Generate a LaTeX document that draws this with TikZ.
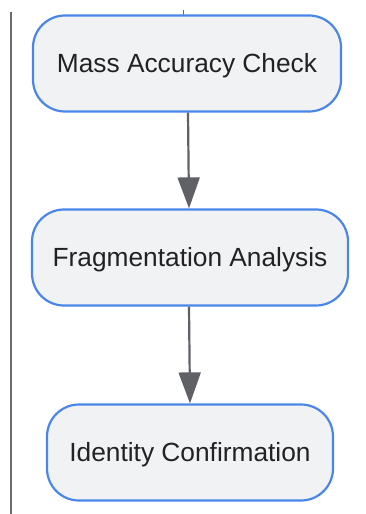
\documentclass[tikz,border=0pt]{standalone}
\usepackage{fontspec}
\setmainfont{Liberation Sans}
\usetikzlibrary{arrows.meta}
\definecolor{boxfill}{HTML}{F1F2F4}
\definecolor{boxline}{HTML}{4A86E8}
\definecolor{arrowgray}{HTML}{5F6166}
\definecolor{txt}{HTML}{222222}
\definecolor{sideline}{HTML}{6A6A6A}
\tikzset{
  stepbox/.style={draw=boxline, line width=2.2pt, fill=boxfill, rounded corners=32pt,
    minimum height=96pt, text=txt, font=\fontsize{26.3}{30}\selectfont, inner sep=0pt,
    text height=18.8pt, text depth=0pt},
  flow/.style={draw=arrowgray, line width=2.2pt, -{Triangle[length=31pt,width=22pt]}}
}
\begin{document}
\begin{tikzpicture}[x=1pt,y=-1pt]
\useasboundingbox (0,0) rectangle (365,514);
\draw[sideline, line width=2pt] (11,12) -- (11,514);
\draw[sideline, line width=0.8pt] (183,10) -- (183,15);
\node[stepbox, minimum width=308pt] (b1) at (187,63.5) {Mass Accuracy Check};
\node[stepbox, minimum width=316pt] (b2) at (190,257.5) {Fragmentation Analysis};
\node[stepbox, minimum width=286pt] (b3) at (190,452.5) {Identity Confirmation};
\draw[flow] ([xshift=1pt]b1.south) -- ([xshift=-1pt]b2.north);
\draw[flow] ([xshift=-1pt]b2.south) -- (b3.north);
\end{tikzpicture}
\end{document}
